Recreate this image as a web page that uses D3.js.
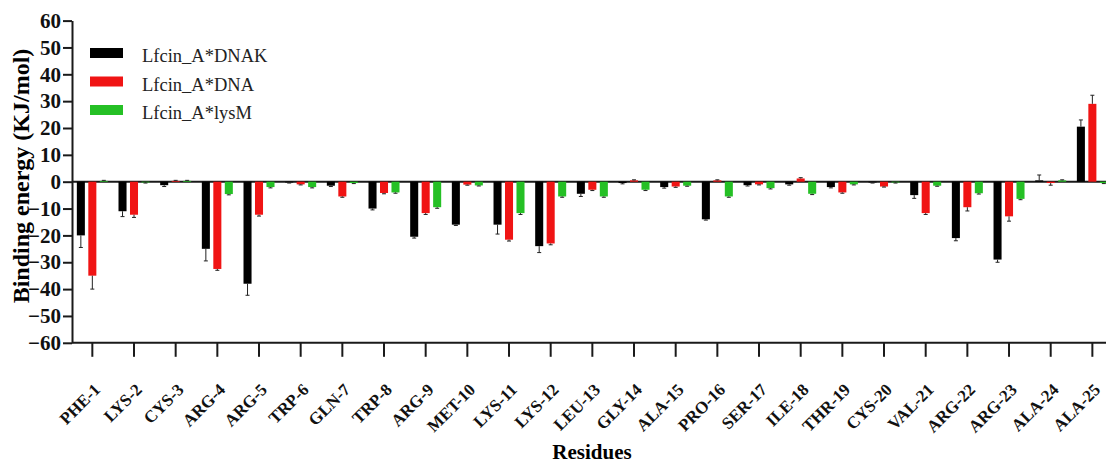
<!DOCTYPE html>
<html>
<head>
<meta charset="utf-8">
<script src="https://cdn.jsdelivr.net/npm/d3@7"></script>
<style>
  body { margin: 0; background: #fff; }
  svg { display: block; font-family: "Liberation Serif", "Times New Roman", serif; }
  .axis path, .axis line { stroke: #1a1a1a; stroke-width: 2; }
  .axis text { fill: #111; font-weight: bold; font-family: "Liberation Serif", "Times New Roman", serif; }
</style>
</head>
<body>
<div id="chart"></div>
<script>
// residues on the x axis
const residues = ["PHE-1", "LYS-2", "CYS-3", "ARG-4", "ARG-5", "TRP-6", "GLN-7", "TRP-8", "ARG-9", "MET-10",
  "LYS-11", "LYS-12", "LEU-13", "GLY-14", "ALA-15", "PRO-16", "SER-17", "ILE-18", "THR-19", "CYS-20",
  "VAL-21", "ARG-22", "ARG-23", "ALA-24", "ALA-25"];

const seriesNames = ["Lfcin_A*DNAK", "Lfcin_A*DNA", "Lfcin_A*lysM"];
const seriesColors = ["#000000", "#f01414", "#25c025"];

// binding energy values (KJ/mol)
const dnak = [-20, -11, -1.3, -25, -38, -0.3, -1.5, -10, -20.5, -16, -16, -24, -4.5, -0.5, -2, -14, -1.3, -1, -2, -0.3, -5, -21, -29, 0.5, 20.5];
const dna = [-35, -12.3, 0.3, -32.5, -12.3, -1, -5.5, -4.2, -11.7, -1.1, -21.6, -23, -3, 0.5, -1.8, 0.5, -1, 1.2, -4, -1.8, -11.7, -9.5, -12.9, -0.5, 29];
const lysm = [0.3, -0.3, 0.3, -4.6, -2, -2, -0.5, -4, -9.5, -1.4, -11.7, -5.5, -5.5, -3, -1.5, -5.5, -2.4, -4.5, -1, -0.3, -1.5, -4.3, -6.4, 0.5, -0.5];

// error bar sizes
const dnakErr = [4.5, 2, 0.5, 4.5, 4.3, 0.2, 0.3, 0.5, 0.5, 0.3, 3.5, 2.4, 1, 0.3, 0.4, 0.3, 0.3, 0.3, 0.3, 0.2, 1.2, 1, 1, 2, 2.5];
const dnaErr = [5, 1, 0.2, 0.5, 0.5, 0.2, 0.3, 0.3, 0.5, 0.2, 0.5, 0.5, 0.3, 0.2, 0.3, 0.2, 0.2, 0.3, 0.3, 0.2, 0.5, 1.4, 1.8, 0.8, 3.2];
const lysmErr = [0.2, 0.2, 0.2, 0.3, 0.3, 0.3, 0.2, 0.3, 0.4, 0.2, 0.5, 0.3, 0.3, 0.3, 0.2, 0.3, 0.3, 0.3, 0.2, 0.2, 0.2, 0.3, 0.3, 0.2, 0.2];

const yTicks = [-60, -50, -40, -30, -20, -10, 0, 10, 20, 30, 40, 50, 60];

const width = 1106, height = 466;
const svg = d3.select("#chart").append("svg").attr("width", width).attr("height", height);

// scales
const x = d3.scaleBand().domain(residues).range([71.5, 1113.2]).padding(0);
const xs = d3.scaleBand().domain(seriesNames).range([-15.5, 15.5]).paddingInner(0.3);
const y = d3.scaleLinear().domain([-60, 60]).range([342.8, 20.6]);

const rows = [];
const allVals = [dnak, dna, lysm], allErr = [dnakErr, dnaErr, lysmErr];
residues.forEach((r, i) => {
  seriesNames.forEach((s, k) => rows.push({ r, s, k, v: allVals[k][i], e: allErr[k][i] }));
});

const plot = svg.append("g");

// zero line
plot.append("line")
  .attr("x1", 72).attr("x2", width)
  .attr("y1", y(0)).attr("y2", y(0))
  .attr("stroke", "#1a1a1a").attr("stroke-width", 2);

// bars
const cx = d => x(d.r) + x.bandwidth() / 2 + xs(d.s);
plot.selectAll("rect.bar").data(rows).enter().append("rect")
  .attr("class", "bar")
  .attr("x", cx)
  .attr("width", xs.bandwidth())
  .attr("y", d => y(Math.max(0, d.v)))
  .attr("height", d => Math.abs(y(d.v) - y(0)))
  .attr("fill", d => seriesColors[d.k]);

// error bars (one-sided, away from zero)
const errG = plot.selectAll("g.err").data(rows).enter().append("g").attr("class", "err")
  .attr("stroke", "#222").attr("stroke-width", 1);
const ex = d => cx(d) + xs.bandwidth() / 2;
const eEnd = d => y(d.v + Math.sign(d.v || 1) * d.e);
errG.append("line").attr("x1", ex).attr("x2", ex).attr("y1", d => y(d.v)).attr("y2", eEnd);
errG.append("line").attr("x1", d => ex(d) - 2).attr("x2", d => ex(d) + 2).attr("y1", eEnd).attr("y2", eEnd);

// y axis
const yAxis = svg.append("g").attr("class", "axis")
  .attr("transform", "translate(72,0)")
  .call(d3.axisLeft(y).tickValues(yTicks).tickSize(9).tickSizeOuter(0).tickPadding(2));
yAxis.attr("font-family", null);
yAxis.selectAll("text").style("font-size", "21px");

// x axis at the bottom
const xAxis = svg.append("g").attr("class", "axis")
  .attr("transform", `translate(0,${y(-60)})`)
  .call(d3.axisBottom(x).tickSize(14).tickSizeOuter(0));
xAxis.attr("font-family", null);
xAxis.select(".domain").attr("d", `M72,0H${width}`);
xAxis.selectAll("text")
  .attr("x", 0).attr("y", 0).attr("dy", 0)
  .attr("text-anchor", "end")
  .attr("transform", "translate(9,48) rotate(-45)")
  .style("font-size", "17px");

// axis titles
svg.append("text")
  .attr("transform", `translate(29,176) rotate(-90)`)
  .attr("text-anchor", "middle")
  .style("font-size", "24px").style("font-weight", "bold")
  .text("Binding energy (KJ/mol)");

svg.append("text")
  .attr("x", 592).attr("y", 459)
  .attr("text-anchor", "middle")
  .style("font-size", "21px").style("font-weight", "bold")
  .text("Residues");

// legend
const legend = svg.append("g").attr("transform", "translate(90,48)");
const li = legend.selectAll("g").data(seriesNames).enter().append("g")
  .attr("transform", (d, i) => `translate(0,${i * 28.5})`);
li.append("rect").attr("width", 33).attr("height", 10).attr("fill", (d, i) => seriesColors[i]);
li.append("text").attr("x", 52).attr("y", 14)
  .style("font-size", "18.5px").attr("fill", "#222")
  .text(d => d);
</script>
</body>
</html>
